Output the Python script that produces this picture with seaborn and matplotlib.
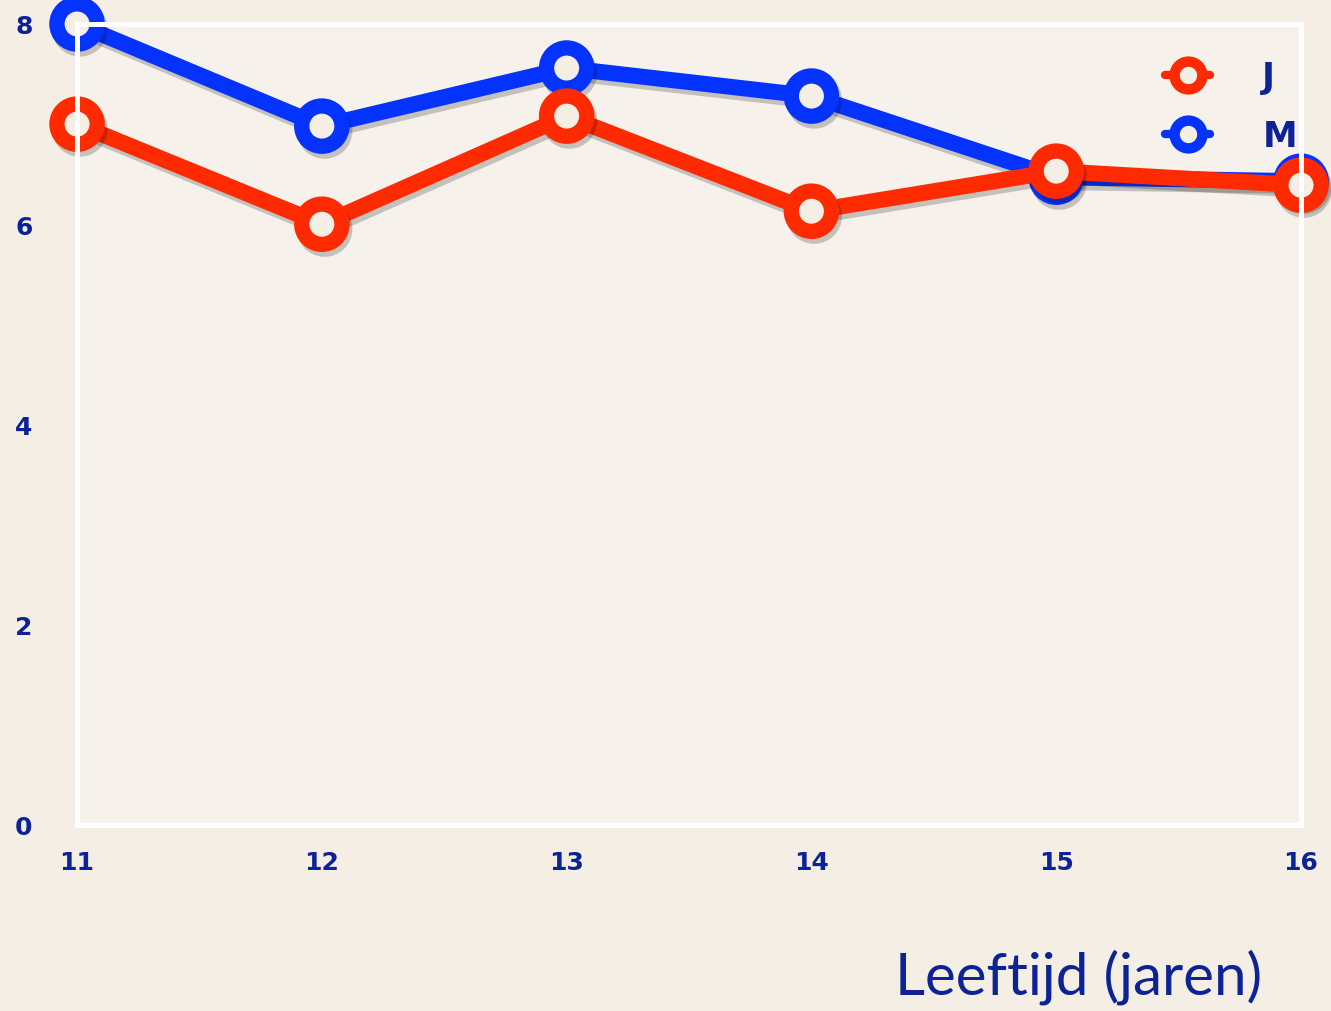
import matplotlib
matplotlib.use("Agg")
import matplotlib.pyplot as plt
import matplotlib.patheffects as pe
import seaborn as sns
import pandas as pd

# data
leeftijd = [11, 12, 13, 14, 15, 16]
jongens = [7.0, 6.0, 7.08, 6.13, 6.53, 6.39]
meisjes = [8.0, 6.98, 7.56, 7.28, 6.47, 6.43]

BG = "#f4eee5"
NAVY = "#0c2396"
ROOD = "#ff2a00"
BLAUW = "#0433ff"

sns.set_theme(style="white")
plt.rcParams['font.family'] = ['DejaVu Sans']

df = pd.DataFrame({
    'Leeftijd': leeftijd * 2,
    'Score': meisjes + jongens,
    'Groep': ['M'] * len(leeftijd) + ['J'] * len(leeftijd),
})

fig = plt.figure(figsize=(13.31, 10.12), dpi=100, facecolor=BG)
ax = fig.add_axes([0.0579, 0.1838, 0.9196, 0.7915])
ax.set_facecolor("#f6f1ea")

# M first so J is drawn on top
sns.lineplot(data=df, x='Leeftijd', y='Score', hue='Groep', hue_order=['M', 'J'],
             palette={'J': ROOD, 'M': BLAUW}, marker='o', linewidth=11.5,
             ax=ax, legend=False)

schaduw = [pe.SimpleLineShadow(offset=(2, -3.5), shadow_color='#000000', alpha=0.2),
           pe.Normal()]
for line in ax.get_lines():
    line.set_markersize(29)
    line.set_markerfacecolor(BG)
    line.set_markeredgewidth(11)
    line.set_markeredgecolor(line.get_color())
    line.set_path_effects(schaduw)
    line.set_clip_on(False)

ax.set_xlim(11, 16)
ax.set_ylim(0, 8)
ax.set_xticks(leeftijd)
ax.set_yticks([0, 2, 4, 6, 8])
ax.tick_params(axis='both', length=0, labelcolor=NAVY, labelsize=18)
ax.tick_params(axis='y', pad=32)
ax.tick_params(axis='x', pad=18)
for lab in ax.get_xticklabels() + ax.get_yticklabels():
    lab.set_fontweight('bold')

for s in ax.spines.values():
    s.set_color('white')
    s.set_linewidth(3.6)
ax.grid(False)
ax.set_xlabel('')
ax.set_ylabel('')

fig.text(0.948, 0.017, 'Leeftijd (jaren)', ha='right', va='baseline',
         color=NAVY, fontsize=42, family=['Lato', 'DejaVu Sans'])

# legend J, M
lines = ax.get_lines()
handles = [lines[1], lines[0]]
leg = ax.legend(handles, ['J', 'M'], loc='upper right', frameon=False,
                bbox_to_anchor=(1.008, 0.972), borderaxespad=0.0, handlelength=1.3,
                handletextpad=1.5, labelspacing=0.72, prop={'size': 25, 'weight': 'bold'})
for h in leg.legend_handles:
    h.set_markersize(20)
    h.set_markeredgewidth(7.5)
    h.set_linewidth(6)
    h.set_path_effects([])
for t in leg.get_texts():
    t.set_color(NAVY)

fig.savefig('out.png', dpi=100, facecolor=BG)
